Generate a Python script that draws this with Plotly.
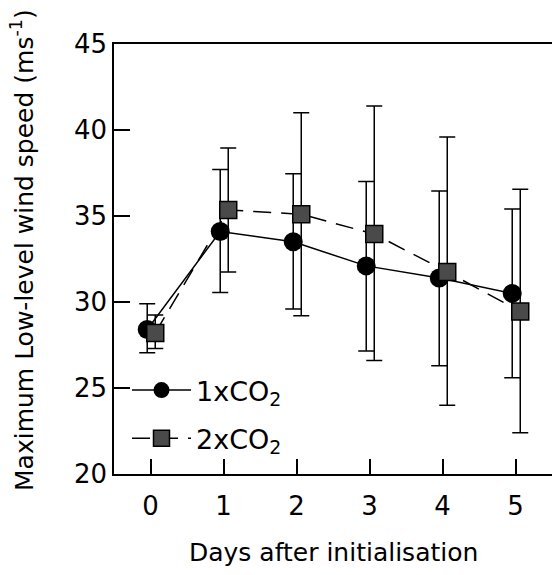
import plotly.graph_objects as go

days = [0, 1, 2, 3, 4, 5]
wind_1x = [28.4, 34.1, 33.5, 32.1, 31.4, 30.5]
upper_1x = [29.9, 37.7, 37.45, 37.0, 36.45, 35.4]
lower_1x = [27.05, 30.55, 29.6, 27.15, 26.3, 25.6]
wind_2x = [28.2, 35.35, 35.1, 33.95, 31.75, 29.45]
upper_2x = [29.25, 38.95, 41.0, 41.4, 39.6, 36.55]
lower_2x = [27.3, 31.75, 29.2, 26.6, 24.0, 22.4]

x_ticks = [0, 1, 2, 3, 4, 5]
y_ticks = [20, 25, 30, 35, 40, 45]

FONT = "DejaVu Sans"
off_1x = -0.045
off_2x = 0.065

x1 = [d + off_1x for d in days]
x2 = [d + off_2x for d in days]

fig = go.Figure()
fig.add_trace(go.Scatter(
    x=x1, y=wind_1x, mode="lines+markers", name="1xCO<sub>2</sub>",
    legendgroup="a",
    line=dict(color="black", width=1.5),
    marker=dict(symbol="circle", size=19, color="black"),
    error_y=dict(type="data", symmetric=False,
                 array=[u - v for u, v in zip(upper_1x, wind_1x)],
                 arrayminus=[v - l for v, l in zip(wind_1x, lower_1x)],
                 color="black", thickness=1.5, width=8),
))
fig.add_trace(go.Scatter(
    x=x2, y=wind_2x, mode="lines+markers", name="2xCO<sub>2</sub>",
    legendgroup="b",
    line=dict(color="black", width=1.5, dash="18px,10px"),
    marker=dict(symbol="square", size=17, color="#4a4a4a",
                line=dict(color="black", width=1.5)),
    error_y=dict(type="data", symmetric=False,
                 array=[u - v for u, v in zip(upper_2x, wind_2x)],
                 arrayminus=[v - l for v, l in zip(wind_2x, lower_2x)],
                 color="black", thickness=1.5, width=8),
))

W, H = 552, 575
L, R, T, B = 114, 0, 44, 101
pw = W - L - R
ph = H - T - B

fig.update_layout(
    width=W, height=H,
    margin=dict(l=L, r=R, t=T, b=B, autoexpand=False),
    paper_bgcolor="white", plot_bgcolor="white",
    font=dict(family=FONT, size=25, color="black"),
    showlegend=True,
    legend=dict(
        x=(127 - L) / pw, xanchor="left",
        y=(T + ph - 366) / ph, yanchor="top",
        bgcolor="rgba(0,0,0,0)", borderwidth=0,
        font=dict(family=FONT, size=27, color="black"),
        itemwidth=59, tracegroupgap=10,
    ),
    xaxis=dict(
        range=[-0.5, 5.5], tickvals=x_ticks, ticktext=[str(t) for t in x_ticks],
        ticks="inside", ticklen=15, tickwidth=1.5, tickcolor="black",
        showline=True, linecolor="black", linewidth=1.5, mirror=True,
        showgrid=False, zeroline=False,
        tickfont=dict(family=FONT, size=26), ticklabelstandoff=8,
    ),
    yaxis=dict(
        range=[20, 45], tickvals=y_ticks, ticktext=[str(t) for t in y_ticks],
        ticks="inside", ticklen=16, tickwidth=1.5, tickcolor="black",
        showline=True, linecolor="black", linewidth=1.5, mirror=True,
        showgrid=False, zeroline=False,
        tickfont=dict(family=FONT, size=26), ticklabelstandoff=0,
    ),
    annotations=[
        dict(text="Days after initialisation", xref="paper", yref="paper",
             x=0.5, y=(T + ph - 552) / ph, xanchor="center", yanchor="middle",
             showarrow=False, font=dict(family=FONT, size=25)),
        dict(text="Maximum Low-level wind speed (ms<sup>-1</sup>)",
             xref="paper", yref="paper", textangle=-90,
             x=(22 - L) / pw, y=(T + ph - 250) / ph,
             xanchor="center", yanchor="middle",
             showarrow=False, font=dict(family=FONT, size=25)),
    ],
)

fig.write_html("out.html")
